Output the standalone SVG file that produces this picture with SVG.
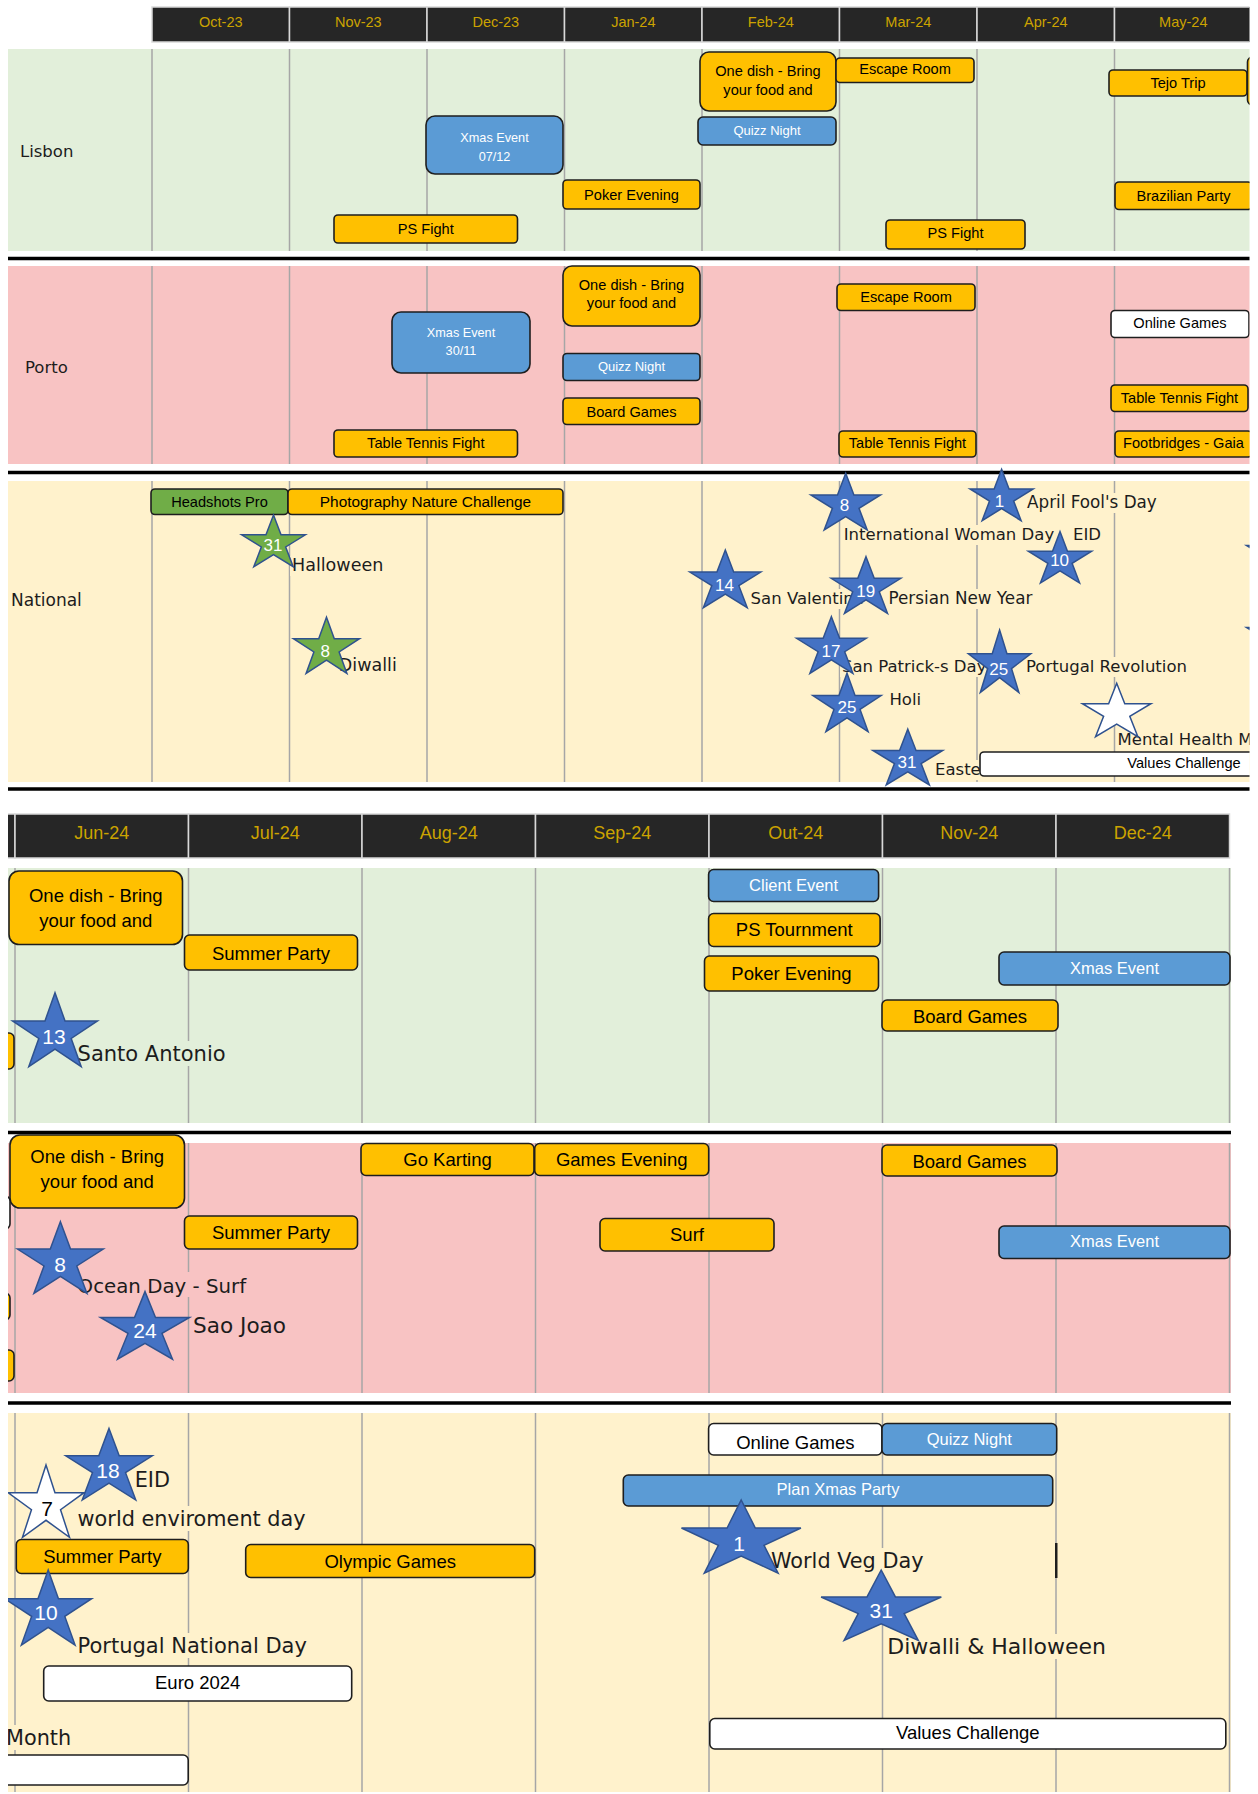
<svg xmlns="http://www.w3.org/2000/svg" width="1258" height="1794" viewBox="0 0 1258 1794">
<defs>
<style>
.hc{fill:#262626;stroke:#D9D9D9;stroke-width:1.5}
.ht{font-family:"Liberation Sans",Arial,sans-serif;fill:#CCA300;text-anchor:middle}
.bl{fill:#E2EFDA}.bp{fill:#F8C3C3}.bn{fill:#FFF2CC}
.grid{stroke:#A6A6A6;stroke-width:1.5}
.sep{stroke:#000;stroke-width:3.5}
.bx{stroke:#1E1E1E;stroke-width:1.6}
.y{fill:#FFC000}.b{fill:#5B9BD5}.g{fill:#70AD47}.w{fill:#FFFFFF}
.t{font-family:"Liberation Sans",Arial,sans-serif;text-anchor:middle;fill:#000}
.tw{fill:#FFFFFF}
.lb{font-family:"DejaVu Sans",Verdana,sans-serif;fill:#1C1C1C}
.st{stroke:#2F528F;stroke-width:1.5}
.sb{fill:#4472C4}.sg{fill:#70AD47}.sw{fill:#FFFFFF}
.n{font-family:"Liberation Sans",Arial,sans-serif;fill:#FFFFFF;text-anchor:middle}
.f14{font-size:14.6px}.f13{font-size:13px}.f125{font-size:12.7px}.f185{font-size:18.5px}.f165{font-size:16.5px}.f168{font-size:16.8px}.f17{font-size:17px}.f175{font-size:17.5px}.f18{font-size:18px}.f145{font-size:14.5px}.f21{font-size:21px}
.f198{font-size:19.8px}.f208{font-size:20.8px}.f21b{font-size:21px}.f217{font-size:21.6px}.f22{font-size:22px}.f15{font-size:15.4px}
</style>
<path id="star" d="M0,-10 L2.245,-3.09 L9.511,-3.09 L3.633,1.18 L5.878,8.09 L0,3.82 L-5.878,8.09 L-3.633,1.18 L-9.511,-3.09 L-2.245,-3.09 Z" vector-effect="non-scaling-stroke"/>
<clipPath id="ct"><rect x="0" y="0" width="1249.5" height="800"/></clipPath>
<clipPath id="cb"><rect x="8" y="800" width="1250" height="994"/></clipPath>
</defs>
<rect x="0" y="0" width="1258" height="1794" fill="#FFFFFF"/>

<g id="top-part" clip-path="url(#ct)">
<g id="header-top">
<rect class="hc" x="152" y="7" width="137.5" height="35"/><text class="ht f145" x="220.8" y="26.7">Oct-23</text>
<rect class="hc" x="289.5" y="7" width="137.5" height="35"/><text class="ht f145" x="358.3" y="26.7">Nov-23</text>
<rect class="hc" x="427" y="7" width="137.5" height="35"/><text class="ht f145" x="495.8" y="26.7">Dec-23</text>
<rect class="hc" x="564.5" y="7" width="137.5" height="35"/><text class="ht f145" x="633.3" y="26.7">Jan-24</text>
<rect class="hc" x="702" y="7" width="137.5" height="35"/><text class="ht f145" x="770.8" y="26.7">Feb-24</text>
<rect class="hc" x="839.5" y="7" width="137.5" height="35"/><text class="ht f145" x="908.3" y="26.7">Mar-24</text>
<rect class="hc" x="977" y="7" width="137.5" height="35"/><text class="ht f145" x="1045.8" y="26.7">Apr-24</text>
<rect class="hc" x="1114.5" y="7" width="137.5" height="35"/><text class="ht f145" x="1183.3" y="26.7">May-24</text>
</g>
<g id="bands-top">
<rect class="bl" x="8" y="49" width="1250" height="202"/>
<rect class="bp" x="8" y="266" width="1250" height="198"/>
<rect class="bn" x="8" y="481" width="1250" height="301"/>
</g>
<g id="grid-top">
<path class="grid" d="M152,49V251M289.5,49V251M427,49V251M564.5,49V251M702,49V251M839.5,49V251M977,49V251M1114.5,49V251"/>
<path class="grid" d="M152,266V464M289.5,266V464M427,266V464M564.5,266V464M702,266V464M839.5,266V464M977,266V464M1114.5,266V464"/>
<path class="grid" d="M152,481V782M289.5,481V782M427,481V782M564.5,481V782M702,481V782M839.5,481V782M977,481V782M1114.5,481V782"/>
</g>
<g id="separators-top">
<path class="sep" d="M8,258.5H1258M8,472.5H1258M8,789H1258"/>
</g>
<g id="row-labels-top">
<text class="lb f165" x="20" y="156.5">Lisbon</text>
<text class="lb f165" x="25" y="372.5">Porto</text>
<text class="lb f17" x="11" y="605.5">National</text>
</g>

<g id="lis-xmas-0712"><rect class="bx b" x="426" y="116" width="137" height="58" rx="9"/><text class="t tw f125" x="494.5" y="141.5">Xmas Event</text><text class="t tw f125" x="494.5" y="160.5">07/12</text></g>
<g id="lis-onedish-feb"><rect class="bx y" x="700" y="52" width="136" height="59" rx="9"/><text class="t f14" x="768" y="76">One dish - Bring</text><text class="t f14" x="768" y="95">your food and</text></g>
<g id="lis-quizz-feb"><rect class="bx b" x="698" y="117" width="138" height="28" rx="5"/><text class="t tw f13" x="767" y="134.5">Quizz Night</text></g>
<g id="lis-escape-mar"><rect class="bx y" x="836" y="58" width="138" height="24.5" rx="4"/><text class="t f14" x="905" y="74.3">Escape Room</text></g>
<g id="lis-tejo"><rect class="bx y" x="1109" y="70" width="138" height="26" rx="4"/><text class="t f14" x="1178" y="88.3">Tejo Trip</text></g>
<g id="lis-edge-fragment"><rect class="bx y" x="1247.5" y="57" width="30" height="48" rx="5"/></g>
<g id="lis-poker-jan"><rect class="bx y" x="563" y="180" width="137" height="29" rx="4"/><text class="t f14" x="631.5" y="200">Poker Evening</text></g>
<g id="lis-brazilian"><rect class="bx y" x="1115" y="182" width="137" height="27.5" rx="4"/><text class="t f14" x="1183.5" y="200.7">Brazilian Party</text></g>
<g id="lis-psfight-nov"><rect class="bx y" x="334" y="215" width="183.5" height="28" rx="4"/><text class="t f14" x="425.8" y="233.7">PS Fight</text></g>
<g id="lis-psfight-mar"><rect class="bx y" x="886" y="220" width="139" height="29" rx="4"/><text class="t f14" x="955.5" y="238.3">PS Fight</text></g>

<g id="por-xmas-3011"><rect class="bx b" x="392" y="312" width="138" height="61" rx="9"/><text class="t tw f125" x="461" y="337">Xmas Event</text><text class="t tw f125" x="461" y="355">30/11</text></g>
<g id="por-onedish-jan"><rect class="bx y" x="563" y="266" width="137" height="60" rx="9"/><text class="t f14" x="631.5" y="290">One dish - Bring</text><text class="t f14" x="631.5" y="308">your food and</text></g>
<g id="por-quizz-jan"><rect class="bx b" x="563" y="353.5" width="137" height="27" rx="4"/><text class="t tw f13" x="631.5" y="370.5">Quizz Night</text></g>
<g id="por-board-jan"><rect class="bx y" x="563" y="398" width="137" height="26.5" rx="4"/><text class="t f14" x="631.5" y="416.7">Board Games</text></g>
<g id="por-ttf-nov"><rect class="bx y" x="334" y="430" width="183.5" height="27" rx="4"/><text class="t f14" x="425.8" y="448.3">Table Tennis Fight</text></g>
<g id="por-escape-mar"><rect class="bx y" x="837" y="284" width="138" height="26.5" rx="4"/><text class="t f14" x="906" y="301.7">Escape Room</text></g>
<g id="por-ttf-mar"><rect class="bx y" x="839" y="431" width="137" height="26" rx="4"/><text class="t f14" x="907.5" y="448.3">Table Tennis Fight</text></g>
<g id="por-online-may"><rect class="bx w" x="1111" y="310.5" width="138" height="27" rx="4"/><text class="t f14" x="1180" y="327.7">Online Games</text></g>
<g id="por-ttf-may"><rect class="bx y" x="1111" y="385" width="137" height="26.5" rx="4"/><text class="t f14" x="1179.5" y="402.7">Table Tennis Fight</text></g>
<g id="por-footbridges"><rect class="bx y" x="1115" y="431" width="137" height="26" rx="4"/><text class="t f14" x="1183.5" y="448.3">Footbridges - Gaia</text></g>

<g id="nat-labels-top">
<rect class="bn" x="290" y="556" width="98" height="20"/><text class="lb f175" x="292" y="571">Halloween</text>
<rect class="bn" x="336" y="656" width="66" height="20"/><text class="lb f175" x="338.8" y="670.7">Diwalli</text>
<rect class="bn" x="842" y="525" width="226" height="20"/><text class="lb f165" x="843.7" y="540">International Woman Day</text>
<rect class="bn" x="1071" y="525" width="32" height="20"/><text class="lb f165" x="1073" y="540">EID</text>
<rect class="bn" x="1025" y="493" width="136" height="20"/><text class="lb f168" x="1027" y="508.3">April Fool's Day</text>
<rect class="bn" x="748" y="589" width="116" height="20"/><text class="lb f165" x="750.6" y="604">San Valentine</text>
<rect class="bn" x="887" y="589" width="150" height="20"/><text class="lb f168" x="888.5" y="604">Persian New Year</text>
<rect class="bn" x="840" y="657" width="160" height="20"/><text class="lb f165" x="842" y="671.7">San Patrick-s Day</text>
<rect class="bn" x="1025" y="657" width="168" height="20"/><text class="lb f165" x="1026" y="671.7">Portugal Revolution</text>
<rect class="bn" x="887" y="690" width="40" height="20"/><text class="lb f165" x="889.4" y="705">Holi</text>
<rect class="bn" x="933" y="760" width="50" height="20"/><text class="lb f165" x="935" y="775">Easter</text>
<rect class="bn" x="1116" y="730" width="140" height="20"/><text class="lb f165" x="1117.5" y="745">Mental Health M</text>
</g>
<g id="nat-headshots"><rect class="bx g" x="151" y="489" width="137" height="25.5" rx="4"/><text class="t f14" x="219.5" y="506.7">Headshots Pro</text></g>
<g id="nat-photography"><rect class="bx y" x="288" y="489" width="275" height="25.5" rx="4"/><text class="t f15" x="425.5" y="506.9">Photography Nature Challenge</text></g>
<g id="nat-values-top"><rect class="bx w" x="980" y="752" width="408" height="24" rx="4"/><text class="t f14" x="1184" y="768.3">Values Challenge</text></g>

<g id="star-halloween"><use href="#star" class="st sg" transform="translate(273.5 543.6) scale(3.35 2.86)"/><text class="n f17" x="273" y="551">31</text></g>
<g id="star-diwalli"><use href="#star" class="st sg" transform="translate(326.5 648.3) scale(3.47 3.1)"/><text class="n f17" x="325.3" y="656.7">8</text></g>
<g id="star-womanday"><use href="#star" class="st sb" transform="translate(845.7 504.6) scale(3.66 3.13)"/><text class="n f17" x="844.5" y="511">8</text></g>
<g id="star-aprilfool"><use href="#star" class="st sb" transform="translate(1001.6 497.7) scale(3.32 2.84)"/><text class="n f17" x="999.6" y="506.7">1</text></g>
<g id="star-eid"><use href="#star" class="st sb" transform="translate(1060 560) scale(3.33 2.85)"/><text class="n f17" x="1059.6" y="566">10</text></g>
<g id="star-valentine"><use href="#star" class="st sb" transform="translate(725.3 581.9) scale(3.73 3.19)"/><text class="n f17" x="724.5" y="591">14</text></g>
<g id="star-persian"><use href="#star" class="st sb" transform="translate(866 588) scale(3.66 3.13)"/><text class="n f17" x="865.7" y="596.7">19</text></g>
<g id="star-patrick"><use href="#star" class="st sb" transform="translate(831.4 648) scale(3.66 3.13)"/><text class="n f17" x="831" y="656.7">17</text></g>
<g id="star-revolution"><use href="#star" class="st sb" transform="translate(999.6 664.5) scale(3.28 3.45)"/><text class="n f17" x="998.8" y="675">25</text></g>
<g id="star-holi"><use href="#star" class="st sb" transform="translate(847 705.6) scale(3.59 3.23)"/><text class="n f17" x="847" y="713.3">25</text></g>
<g id="star-easter"><use href="#star" class="st sb" transform="translate(907.8 760) scale(3.67 3.08)"/><text class="n f17" x="907" y="767.7">31</text></g>
<g id="star-mentalhealth"><use href="#star" class="st sw" transform="translate(1116.7 712.8) scale(3.6 2.95)"/></g>
<g id="star-edge-1"><use href="#star" class="st sb" transform="translate(1281 555) scale(3.63 3.1)"/></g>
<g id="star-edge-2"><use href="#star" class="st sb" transform="translate(1281 637) scale(3.63 3.1)"/></g>
</g>

<g id="bottom-part" clip-path="url(#cb)">
<g id="header-bottom">
<rect class="hc" x="2" y="814" width="13" height="44"/>
<rect class="hc" x="15" y="814" width="173.5" height="44"/><text class="ht f18" x="101.8" y="839.3">Jun-24</text>
<rect class="hc" x="188.5" y="814" width="173.5" height="44"/><text class="ht f18" x="275.3" y="839.3">Jul-24</text>
<rect class="hc" x="362" y="814" width="173.5" height="44"/><text class="ht f18" x="448.8" y="839.3">Aug-24</text>
<rect class="hc" x="535.5" y="814" width="173.5" height="44"/><text class="ht f18" x="622.3" y="839.3">Sep-24</text>
<rect class="hc" x="709" y="814" width="173.5" height="44"/><text class="ht f18" x="795.8" y="839.3">Out-24</text>
<rect class="hc" x="882.5" y="814" width="173.5" height="44"/><text class="ht f18" x="969.3" y="839.3">Nov-24</text>
<rect class="hc" x="1056" y="814" width="173.5" height="44"/><text class="ht f18" x="1142.8" y="839.3">Dec-24</text>
</g>
<g id="bands-bottom">
<rect class="bl" x="8" y="868" width="1223" height="255"/>
<rect class="bp" x="8" y="1143" width="1223" height="250"/>
<rect class="bn" x="8" y="1413" width="1223" height="379"/>
</g>
<g id="grid-bottom">
<path class="grid" d="M15,868V1123M188.5,868V1123M362,868V1123M535.5,868V1123M709,868V1123M882.5,868V1123M1056,868V1123M1229.5,868V1123"/>
<path class="grid" d="M15,1143V1393M188.5,1143V1393M362,1143V1393M535.5,1143V1393M709,1143V1393M882.5,1143V1393M1056,1143V1393M1229.5,1143V1393"/>
<path class="grid" d="M15,1413V1792M188.5,1413V1792M362,1413V1792M535.5,1413V1792M709,1413V1792M882.5,1413V1792M1056,1413V1792M1229.5,1413V1792"/>
</g>
<g id="separators-bottom">
<path class="sep" d="M8,1132.5H1231M8,1403H1231"/>
</g>

<g id="labels-bottom">
<rect class="bl" x="75" y="1041" width="152" height="25"/><text class="lb f21b" x="77.6" y="1061">Santo Antonio</text>
<rect class="bp" x="75" y="1272" width="172" height="25"/><text class="lb f198" x="77.6" y="1292.7">Ocean Day - Surf</text>
<rect class="bp" x="191" y="1312" width="96" height="25"/><text class="lb f217" x="193" y="1332.7">Sao Joao</text>
<rect class="bn" x="132" y="1467" width="40" height="25"/><text class="lb f208" x="134.7" y="1487.3">EID</text>
<rect class="bn" x="75" y="1506" width="232" height="25"/><text class="lb f208" x="77.6" y="1526">world enviroment day</text>
<rect class="bn" x="75" y="1633" width="234" height="25"/><text class="lb f21b" x="77.6" y="1653.3">Portugal National Day</text>
<rect class="bn" x="8" y="1725" width="66" height="25"/><text class="lb f208" x="6" y="1745">Month</text>
<rect class="bn" x="769" y="1548" width="158" height="25"/><text class="lb f208" x="771" y="1568.3">World Veg Day</text>
<rect class="bn" x="885" y="1634" width="222" height="25"/><text class="lb f22" x="887.3" y="1654">Diwalli &amp; Halloween</text>
</g>

<g id="lis-onedish-jun"><rect class="bx y" x="9" y="871" width="173.5" height="73.5" rx="10"/><text class="t f185" x="95.8" y="902">One dish - Bring</text><text class="t f185" x="95.8" y="926.5">your food and</text></g>
<g id="lis-summer-jul"><rect class="bx y" x="184.5" y="935" width="173" height="35" rx="5"/><text class="t f185" x="271" y="959.8">Summer Party</text></g>
<g id="lis-edge-bottom"><rect class="bx y" x="-120" y="1033" width="134" height="36" rx="5"/></g>
<g id="lis-client"><rect class="bx b" x="708.6" y="869.5" width="170" height="32" rx="5"/><text class="t tw f165" x="793.6" y="891.3">Client Event</text></g>
<g id="lis-pstournment"><rect class="bx y" x="708.6" y="913.5" width="171.5" height="33" rx="5"/><text class="t f185" x="794.3" y="935.8">PS Tournment</text></g>
<g id="lis-poker-oct"><rect class="bx y" x="704.5" y="956" width="174" height="35" rx="5"/><text class="t f185" x="791.5" y="979.8">Poker Evening</text></g>
<g id="lis-xmas-dec"><rect class="bx b" x="999" y="952" width="231" height="33" rx="5"/><text class="t tw f165" x="1114.5" y="974.3">Xmas Event</text></g>
<g id="lis-board-nov"><rect class="bx y" x="882" y="1000" width="176" height="31" rx="5"/><text class="t f185" x="970" y="1022.5">Board Games</text></g>

<g id="por-onedish-jun"><rect class="bx y" x="10" y="1135" width="174.5" height="73" rx="10"/><text class="t f185" x="97.2" y="1163">One dish - Bring</text><text class="t f185" x="97.2" y="1188">your food and</text></g>
<g id="por-gokarting"><rect class="bx y" x="361" y="1143.5" width="173" height="32" rx="5"/><text class="t f185" x="447.5" y="1165.8">Go Karting</text></g>
<g id="por-gamesevening"><rect class="bx y" x="534.7" y="1143.5" width="174" height="32" rx="5"/><text class="t f185" x="621.7" y="1165.8">Games Evening</text></g>
<g id="por-summer-jul"><rect class="bx y" x="184.5" y="1216" width="173" height="33" rx="5"/><text class="t f185" x="271" y="1239.2">Summer Party</text></g>
<g id="por-surf"><rect class="bx y" x="600" y="1218.5" width="174" height="32.5" rx="5"/><text class="t f185" x="687" y="1240.5">Surf</text></g>
<g id="por-board-nov"><rect class="bx y" x="882" y="1145" width="175" height="31" rx="5"/><text class="t f185" x="969.5" y="1167.5">Board Games</text></g>
<g id="por-xmas-dec"><rect class="bx b" x="999" y="1226" width="231" height="32.5" rx="5"/><text class="t tw f165" x="1114.5" y="1246.7">Xmas Event</text></g>
<g id="por-edge-1"><rect class="bx w" x="-120" y="1196" width="130" height="33" rx="5"/></g>
<g id="por-edge-2"><rect class="bx y" x="-120" y="1293" width="130" height="27" rx="5"/></g>
<g id="por-edge-3"><rect class="bx y" x="-120" y="1350" width="134" height="31" rx="5"/></g>

<g id="nat-summer-jun"><rect class="bx y" x="16.3" y="1539.5" width="172" height="34" rx="5"/><text class="t f185" x="102.3" y="1563">Summer Party</text></g>
<g id="nat-olympic"><rect class="bx y" x="245.7" y="1544.5" width="289" height="33" rx="5"/><text class="t f185" x="390.2" y="1567.5">Olympic Games</text></g>
<g id="nat-euro"><rect class="bx w" x="43.7" y="1666" width="308" height="35" rx="5"/><text class="t f185" x="197.7" y="1688.8">Euro 2024</text></g>
<g id="nat-values-edge"><rect class="bx w" x="-200" y="1755" width="388.2" height="30" rx="5"/></g>
<g id="nat-online-oct"><rect class="bx w" x="708.6" y="1423.5" width="173.4" height="31.5" rx="5"/><text class="t f185" x="795.3" y="1449">Online Games</text></g>
<g id="nat-quizz-nov"><rect class="bx b" x="882" y="1423.5" width="174.7" height="31.5" rx="5"/><text class="t tw f165" x="969.3" y="1445.3">Quizz Night</text></g>
<g id="nat-planxmas"><rect class="bx b" x="623.3" y="1475" width="429.4" height="31" rx="5"/><text class="t tw f165" x="838" y="1495.3">Plan Xmas Party</text></g>
<g id="nat-values-bottom"><rect class="bx w" x="709.8" y="1718.5" width="516" height="30.5" rx="5"/><text class="t f185" x="967.8" y="1738.8">Values Challenge</text></g>
<g id="nat-bar"><rect x="1055" y="1543" width="2.5" height="35" fill="#1E1E1E"/></g>

<g id="star-santoantonio"><use href="#star" class="st sb" transform="translate(55 1033.6) scale(4.46 4.09)"/><text class="n f21" x="53.9" y="1043.5">13</text></g>
<g id="star-oceanday"><use href="#star" class="st sb" transform="translate(60.4 1261.3) scale(4.51 3.96)"/><text class="n f21" x="60" y="1271.5">8</text></g>
<g id="star-saojoao"><use href="#star" class="st sb" transform="translate(145 1329) scale(4.68 3.74)"/><text class="n f21" x="145" y="1337.5">24</text></g>
<g id="star-environment"><use href="#star" class="st sw" transform="translate(46 1505) scale(4.0 4.0)"/><text class="n f21" x="47" y="1515.8" style="fill:#000">7</text></g>
<g id="star-eid-jun"><use href="#star" class="st sb" transform="translate(109 1468) scale(4.55 3.96)"/><text class="n f21" x="108" y="1478.2">18</text></g>
<g id="star-portugalday"><use href="#star" class="st sb" transform="translate(48.2 1611.5) scale(4.57 4.15)"/><text class="n f21" x="46" y="1620.2">10</text></g>
<g id="star-vegday"><use href="#star" class="st sb" transform="translate(741.2 1540.5) scale(6.28 4.05)"/><text class="n f21" x="739.2" y="1550.8">1</text></g>
<g id="star-diwali-halloween"><use href="#star" class="st sb" transform="translate(881.2 1609) scale(6.32 3.9)"/><text class="n f21" x="881.2" y="1618.2">31</text></g>
</g>
<g id="connectors"></g>
</svg>
